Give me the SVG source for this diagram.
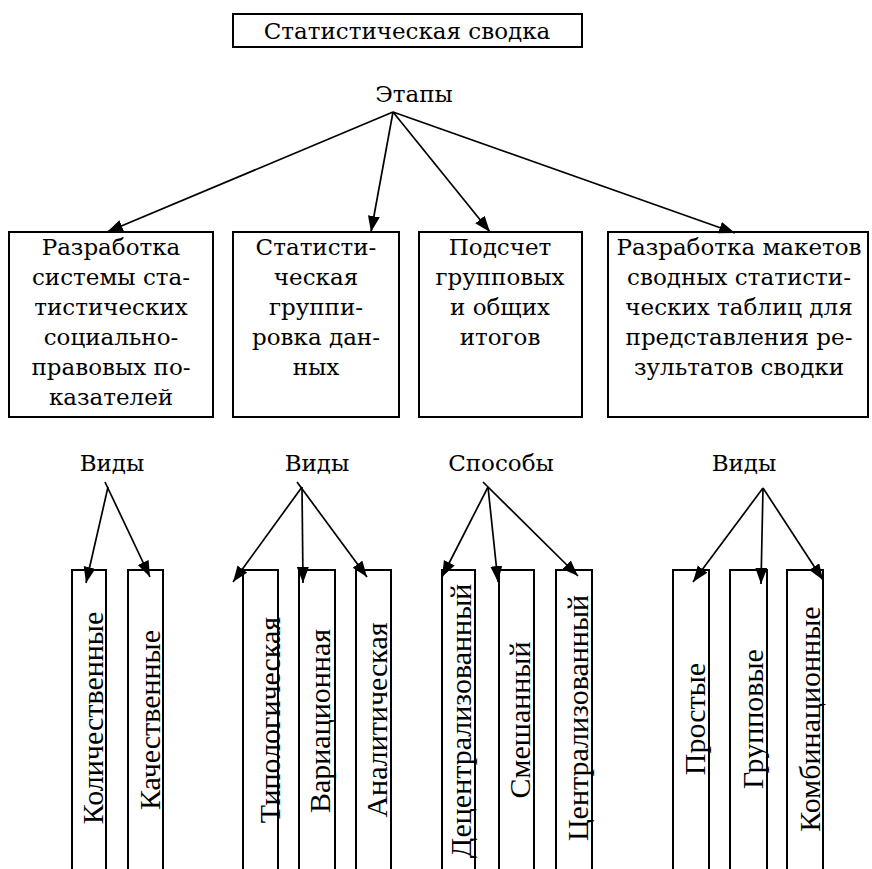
<svg xmlns="http://www.w3.org/2000/svg" width="872" height="869" viewBox="0 0 872 869">
<style>
.bx{fill:none;stroke:#000;stroke-width:2}
.h{font-family:"DejaVu Serif","Liberation Serif",serif;font-size:23px;fill:#000;text-anchor:middle}
.v{font-family:"Liberation Serif","Times New Roman",serif;font-size:30px;fill:#000;text-anchor:middle}
.ar{fill:none;stroke:#000;stroke-width:1.7;marker-end:url(#ah)}
</style>
<defs>
<marker id="ah" markerUnits="userSpaceOnUse" markerWidth="18" markerHeight="13" refX="16" refY="6" orient="auto">
<path d="M0,0 L16,6 L0,12 z" fill="#000"/>
</marker>
</defs>
<rect width="872" height="869" fill="#fff"/>

<g id="root">
<rect class="bx" x="233" y="14" width="349" height="33"/>
<text class="h" x="407" y="39">Статистическая сводка</text>
</g>
<g id="etapy"><text class="h" x="414" y="102">Этапы</text></g>

<g id="box1">
<rect class="bx" x="9" y="232" width="204" height="185"/>
<text class="h" x="111" y="255">Разработка</text>
<text class="h" x="111" y="285">системы ста-</text>
<text class="h" x="111" y="315">тистических</text>
<text class="h" x="111" y="345">социально-</text>
<text class="h" x="111" y="375">правовых по-</text>
<text class="h" x="111" y="405">казателей</text>
</g>
<g id="box2">
<rect class="bx" x="233" y="232" width="166" height="185"/>
<text class="h" x="316" y="255">Статисти-</text>
<text class="h" x="316" y="285">ческая</text>
<text class="h" x="316" y="315">группи-</text>
<text class="h" x="316" y="345">ровка дан-</text>
<text class="h" x="316" y="375">ных</text>
</g>
<g id="box3">
<rect class="bx" x="419" y="232" width="163" height="185"/>
<text class="h" x="500" y="255">Подсчет</text>
<text class="h" x="500" y="285">групповых</text>
<text class="h" x="500" y="315">и общих</text>
<text class="h" x="500" y="345">итогов</text>
</g>
<g id="box4">
<rect class="bx" x="608" y="232" width="260" height="185"/>
<text class="h" x="739" y="255">Разработка макетов</text>
<text class="h" x="739" y="285">сводных статисти-</text>
<text class="h" x="739" y="315">ческих таблиц для</text>
<text class="h" x="739" y="345">представления ре-</text>
<text class="h" x="739" y="375">зультатов сводки</text>
</g>

<g id="lbl1"><text class="h" x="112" y="471">Виды</text></g>
<g id="lbl2"><text class="h" x="317" y="471">Виды</text></g>
<g id="lbl3"><text class="h" x="501" y="471">Способы</text></g>
<g id="lbl4"><text class="h" x="744" y="471">Виды</text></g>

<g id="k1"><polyline class="bx" points="72,870 72,570 106,570 106,870"/>
<text class="v" transform="translate(103,718) rotate(-90)">Количественные</text></g>
<g id="k2"><polyline class="bx" points="128,870 128,570 163,570 163,870"/>
<text class="v" transform="translate(160,720) rotate(-90)">Качественные</text></g>
<g id="k3"><polyline class="bx" points="243,870 243,570 278,570 278,870"/>
<text class="v" transform="translate(280,720) rotate(-90)">Типологическая</text></g>
<g id="k4"><polyline class="bx" points="299,870 299,570 335,570 335,870"/>
<text class="v" transform="translate(330,721) rotate(-90)">Вариационная</text></g>
<g id="k5"><polyline class="bx" points="356,870 356,570 391,570 391,870"/>
<text class="v" transform="translate(387,720) rotate(-90)">Аналитическая</text></g>
<g id="k6"><polyline class="bx" points="442,870 442,570 475,570 475,870"/>
<text class="v" transform="translate(471,721) rotate(-90)">Децентрализованный</text></g>
<g id="k7"><polyline class="bx" points="499,870 499,570 534,570 534,870"/>
<text class="v" transform="translate(530,720) rotate(-90)">Смешанный</text></g>
<g id="k8"><polyline class="bx" points="556,870 556,570 592,570 592,870"/>
<text class="v" transform="translate(588,718) rotate(-90)">Централизованный</text></g>
<g id="k9"><polyline class="bx" points="673,870 673,570 709,570 709,870"/>
<text class="v" transform="translate(705,719) rotate(-90)">Простые</text></g>
<g id="k10"><polyline class="bx" points="730,870 730,570 767,570 767,870"/>
<text class="v" transform="translate(763,719) rotate(-90)">Групповые</text></g>
<g id="k11"><polyline class="bx" points="787,870 787,570 823,570 823,870"/>
<text class="v" transform="translate(820,719) rotate(-90)">Комбинационные</text></g>

<g id="connectors">
<line class="ar" x1="393" y1="112" x2="107" y2="232"/>
<line class="ar" x1="393" y1="112" x2="371" y2="232"/>
<line class="ar" x1="393" y1="112" x2="490" y2="232"/>
<line class="ar" x1="393" y1="112" x2="735" y2="233"/>

<line class="ar" x1="105" y1="482" x2="150" y2="577"/>
<line class="ar" x1="108" y1="487" x2="86" y2="583"/>

<line class="ar" x1="297" y1="482" x2="367" y2="577"/>
<line class="ar" x1="302" y1="487" x2="233" y2="582"/>
<line class="ar" x1="302" y1="487" x2="303" y2="583"/>

<line class="ar" x1="483" y1="482" x2="578" y2="576"/>
<line class="ar" x1="488" y1="487" x2="442" y2="577"/>
<line class="ar" x1="488" y1="487" x2="498" y2="582"/>

<line class="ar" x1="763" y1="488" x2="693" y2="582"/>
<line class="ar" x1="763" y1="488" x2="761" y2="584"/>
<line class="ar" x1="763" y1="488" x2="823" y2="580"/>
</g>
</svg>
